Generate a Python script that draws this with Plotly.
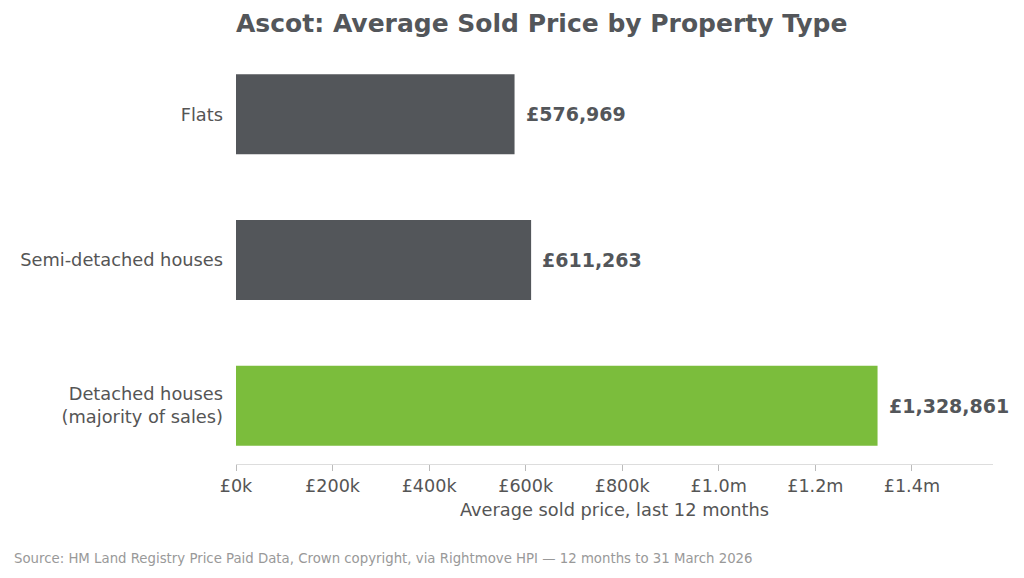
import plotly.graph_objects as go

categories = ["Detached houses<br>(majority of sales)", "Semi-detached houses", "Flats"]
values = [1328861, 611263, 576969]
colors = ["#7BBD3C", "#53565A", "#53565A"]
tick_vals = [0, 200000, 400000, 600000, 800000, 1000000, 1200000, 1400000]
tick_text = ["£0k", "£200k", "£400k", "£600k", "£800k", "£1.0m", "£1.2m", "£1.4m"]
value_labels = ["£{:,}".format(v) for v in values]
positions = [0, 1, 2]

fig = go.Figure(go.Bar(
    x=values, y=positions, orientation="h",
    marker=dict(color=colors, line=dict(width=0)),
    width=0.55, hoverinfo="skip",
))

annotations = [dict(x=v, y=p, xref="x", yref="y", text="<b>%s</b>" % t, showarrow=False,
                    xanchor="left", yanchor="middle", xshift=9,
                    font=dict(family="DejaVu Sans", size=19, color="#53565A"))
               for v, p, t in zip(values, positions, value_labels)]
annotations.append(dict(
    text="Source: HM Land Registry Price Paid Data, Crown copyright, via Rightmove HPI — 12 months to 31 March 2026",
    x=(12 - 236) / 757, y=(464 - 558) / 408, xref="paper", yref="paper", xanchor="left", yanchor="middle",
    showarrow=False, font=dict(size=13.3, color="#999999")))

fig.update_layout(
    width=1024, height=578,
    margin=dict(l=236, r=31, t=56, b=114),
    paper_bgcolor="white", plot_bgcolor="white",
    font=dict(family="DejaVu Sans", color="#53565A"),
    showlegend=False,
    title=dict(text="<b>Ascot: Average Sold Price by Property Type</b>",
               x=236/1024, xanchor="left", y=1-23/578, yanchor="middle",
               font=dict(size=25, color="#53565A")),
    xaxis=dict(range=[0, 1568000], tickvals=tick_vals, ticktext=tick_text,
               showgrid=False, zeroline=False, showline=True, linecolor="#dddddd", linewidth=1,
               ticks="outside", ticklen=6, tickcolor="#bbbbbb",
               tickfont=dict(size=17.6, color="#555555"),
               title=dict(text="Average sold price, last 12 months", font=dict(size=17.8, color="#555555"), standoff=8)),
    yaxis=dict(range=[-0.4, 2.4], tickvals=positions, ticktext=categories,
               showgrid=False, zeroline=False, showline=False, ticks="",
               tickfont=dict(size=17.8, color="#555555"), ticklabelstandoff=12),
    annotations=annotations,
)

fig.write_html("out.html")
